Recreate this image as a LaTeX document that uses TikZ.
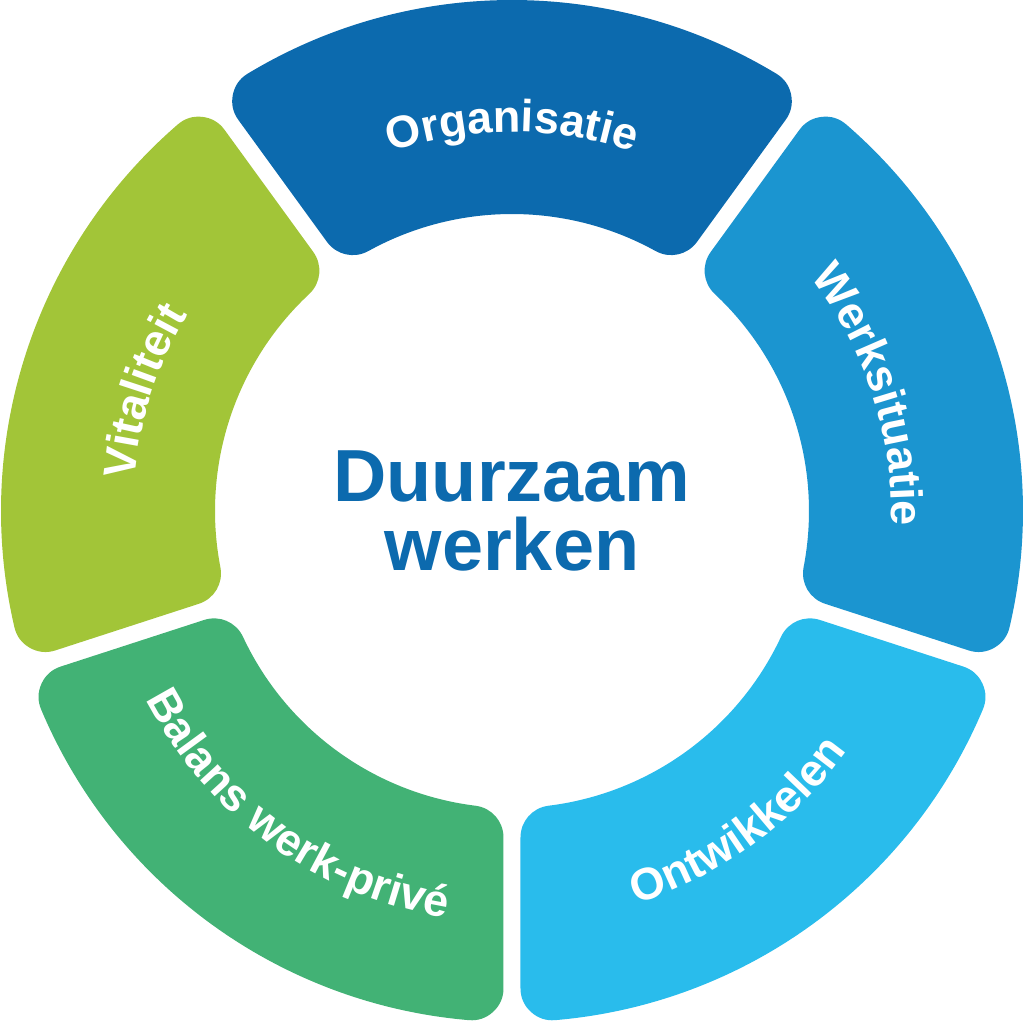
\documentclass[tikz,border=0pt]{standalone}
\usepackage{fontspec}
\setmainfont{Liberation Sans}
\definecolor{OrgBlue}{HTML}{0C6AAE}
\definecolor{WerkBlue}{HTML}{1B95D0}
\definecolor{OntwBlue}{HTML}{29BCEC}
\definecolor{BalGreen}{HTML}{42B275}
\definecolor{VitGreen}{HTML}{A2C538}
\usetikzlibrary{decorations.text}
\newcommand{\segfont}{\bfseries\fontsize{12.8}{15}\selectfont\color{white}}

\begin{document}
\begin{tikzpicture}[
  segment/.style={fill=#1,draw=#1,line width=6.4mm,line join=round},
  ringtext/.style={decorate,decoration={text along path,text align=center,text={|\segfont|#1}}}]
\useasboundingbox (-5.12,-5.11) rectangle (5.12,5.11);
% ring: outer/inner radius minus corner radius, half gap plus corner radius
\def\Ro{4.79} \def\Ri{3.29} \def\gapoff{0.405}
\foreach \a/\col in {54/OrgBlue,126/VitGreen,198/BalGreen,270/OntwBlue,342/WerkBlue}{
  \pgfmathsetmacro\aA{\a+asin(\gapoff/\Ro)}
  \pgfmathsetmacro\aB{\a+72-asin(\gapoff/\Ro)}
  \pgfmathsetmacro\aC{\a+72-asin(\gapoff/\Ri)}
  \pgfmathsetmacro\aD{\a+asin(\gapoff/\Ri)}
  \path[segment=\col] (\aA:\Ro) arc[start angle=\aA,end angle=\aB,radius=\Ro]
    -- (\aC:\Ri) arc[start angle=\aC,end angle=\aD,radius=\Ri] -- cycle;
}
% labels along the ring
\path[ringtext=Organisatie] (150:3.79) arc[start angle=150,end angle=30,radius=3.79];
\path[ringtext=Werksituatie] (78:3.79) arc[start angle=78,end angle=-42,radius=3.79];
\path[ringtext=Vitaliteit] (222:3.79) arc[start angle=222,end angle=102,radius=3.79];
\path[ringtext=Ontwikkelen] (-114:4.12) arc[start angle=-114,end angle=6,radius=4.12];
\path[ringtext=Balans werk-privé] (174:4.12) arc[start angle=174,end angle=294,radius=4.12];
\node[OrgBlue,font=\bfseries\fontsize{21}{19.4}\selectfont,align=center,inner sep=0pt] (centre) at (0,0) {Duurzaam\\werken};
\end{tikzpicture}
\end{document}
